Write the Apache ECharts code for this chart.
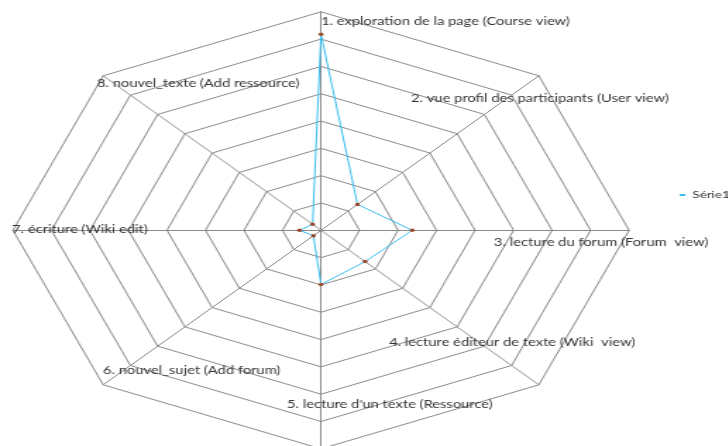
<!DOCTYPE html>
<html>
<head>
<meta charset="utf-8">
<script src="https://cdn.jsdelivr.net/npm/echarts@6/dist/echarts.min.js"></script>
<style>
  html, body { margin: 0; padding: 0; background: #fff; overflow: hidden; }
  /* the reference plot is wider than tall: draw it narrow then stretch horizontally */
  #main { width: 516px; height: 446px; transform: scaleX(1.41); transform-origin: 0 0; }
</style>
</head>
<body>
<div id="main"></div>
<script>
const STRETCH = 1.41;

// axes, clockwise from the top (as in the reference)
const categories = [
  "1. exploration de la page (Course view)",
  "2. vue profil des participants (User view)",
  "3. lecture du forum (Forum  view)",
  "4. lecture éditeur de texte (Wiki  view)",
  "5. lecture d'un texte (Ressource)",
  "6. nouvel_sujet (Add forum)",
  "7. écriture (Wiki edit)",
  "8. nouvel_texte (Add ressource)",
];
const serie1 = [71.8, 13.4, 23.7, 16.2, 19.8, 2.8, 5.6, 3.1];
const axisMax = 80;
const seriesName = "Série1";

// label anchors in final page pixels (left edge, vertical middle)
const labelPos = [
  [321, 21], [411, 98], [494, 242], [389, 342],
  [287, 404], [103, 370], [12, 229], [97, 83],
];

// echarts lays radar indicators counter-clockwise, so walk the list backwards after the first
const order = [0, 7, 6, 5, 4, 3, 2, 1];

const chart = echarts.init(document.getElementById("main"), null, { renderer: "canvas" });

chart.setOption({
  animation: false,
  legend: {
    data: [seriesName],
    left: 482, top: 190, padding: 0,
    itemWidth: 4, itemHeight: 2, icon: "rect",
    itemStyle: { color: "#36bdee" },
    textStyle: { fontFamily: "Lato", fontSize: 9.5, color: "#333" },
  },
  radar: {
    center: [321 / STRETCH, 230.3],
    radius: 218.5,
    shape: "polygon",
    splitNumber: 8,
    startAngle: 90,
    indicator: order.map(i => ({ name: categories[i], min: 0, max: axisMax })),
    axisName: { show: false },
    axisLine: { lineStyle: { color: "#8a8a8a", width: 1 } },
    splitLine: { lineStyle: { color: "#8a8a8a", width: 1 } },
    splitArea: { show: false },
    axisTick: { show: false },
    axisLabel: { show: false },
  },
  graphic: categories.map((c, i) => ({
    type: "text",
    x: labelPos[i][0] / STRETCH,
    y: labelPos[i][1],
    scaleX: 0.87,
    z: 10,
    style: {
      text: c,
      font: "12px Lato",
      fill: "#333",
      textAlign: "left",
      textVerticalAlign: "middle",
    },
  })),
  series: [{
    name: seriesName,
    type: "radar",
    symbol: "circle",
    symbolSize: 3.5,
    itemStyle: { color: "#9a4a2a" },
    lineStyle: { color: "#36bdee", width: 1 },
    data: [{ name: seriesName, value: order.map(i => serie1[i]) }],
  }],
});
</script>
</body>
</html>
